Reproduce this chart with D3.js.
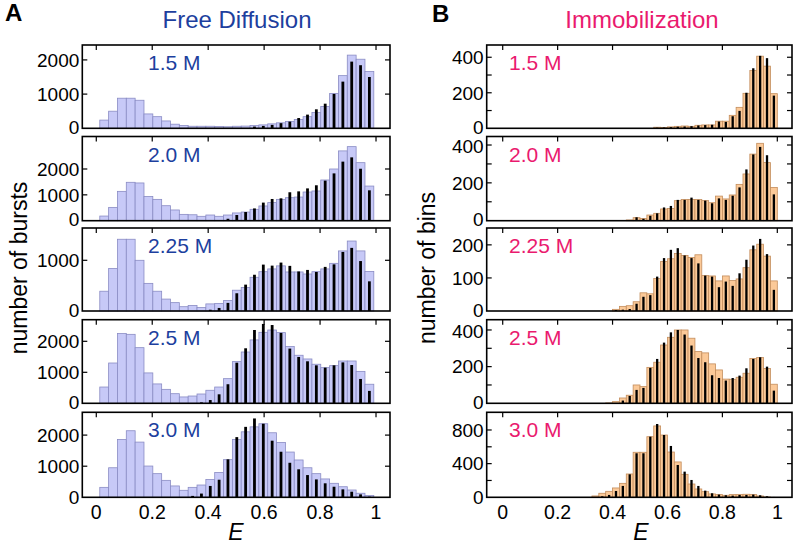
<!DOCTYPE html>
<html>
<head>
<meta charset="utf-8">
<script src="https://cdn.jsdelivr.net/npm/d3@7"></script>
<style>
  body { margin: 0; background: #fff; }
  svg { font-family: "Liberation Sans", Arial, Helvetica, sans-serif; }
</style>
</head>
<body>
<div id="chart"></div>
<script>
// ---- data ----
const zeros = n => Array(n).fill(0);

const concLabels = ["1.5 M", "2.0 M", "2.25 M", "2.5 M", "3.0 M"];

// free diffusion: 31 burst bins, first edge and width in E
const freeBinStart = 0.0125;
const freeBinWidth = 0.0316;

const free15 = [240,500,880,880,820,420,340,215,120,80,60,60,60,55,45,60,65,80,100,130,160,200,260,340,460,640,1020,1540,2140,2020,1660];
const free20 = [180,515,1135,1485,1460,940,825,580,415,245,230,170,220,170,220,300,335,440,570,700,825,890,915,1110,1150,1575,2000,2700,2865,2245,1340];
const free225 = [390,840,1415,1415,1000,545,390,235,165,85,110,70,140,150,205,410,465,665,775,830,890,770,770,730,775,830,940,1185,1380,1185,780];
const free25 = [525,1300,2250,2225,1795,980,625,450,310,205,235,300,420,525,795,1345,1655,2045,2290,2365,2280,1830,1550,1430,1260,1150,1215,1365,1365,1030,615];
const free30 = [320,950,1860,2140,1775,1005,760,545,365,225,320,395,575,800,1210,1860,2105,2265,2365,2075,1765,1455,1200,950,760,590,450,340,235,130,55];

const freeFit15 = zeros(17).concat([50,70,100,150,195,300,400,555,720,1005,1365,1950,1845,1500]);
const freeFit20 = zeros(14).concat([75,220,335,475,700,840,865,1100,1135,1250,1370,1550,1830,2285,2450,2010,1175]);
const freeFit225 = zeros(12).concat([25,60,160,350,520,715,915,895,955,890,780,810,770,870,920,1165,1245,985,585]);
const freeFit25 = zeros(11).concat([30,105,290,615,1310,1775,2365,2560,2525,2270,1765,1495,1355,1225,1150,1225,1320,1235,785,400]);
const freeFit30 = zeros(10).concat([45,120,365,565,1220,1935,2265,2535,2365,1820,1465,1110,900,715,575,450,340,255,180,95,20]);

// immobilization: 40 bins of 0.025 in E
const immBinWidth = 0.025;

const imm15 = zeros(22).concat([6,4,8,11,13,11,17,19,19,40,40,73,118,197,325,406,350,195]);
const imm20 = zeros(18).concat([4,16,12,30,39,62,65,106,112,112,112,106,95,130,115,136,192,247,352,409,307,176]);
const imm225 = zeros(16).concat([5,14,16,28,55,52,98,150,158,174,168,162,170,107,106,91,106,92,97,131,185,202,166,91]);
const imm25 = zeros(15).concat([2,9,29,44,100,91,196,224,318,360,400,400,355,282,275,215,182,132,131,142,164,244,250,190,104]);
const imm30 = zeros(13).concat([16,48,71,111,166,277,535,535,720,848,740,538,420,273,158,99,67,40,32,24,32,32,36,32,16,4,0]);

const immFit15 = zeros(22).concat([3,4,6,9,10,12,16,18,20,38,36,68,98,200,338,408,395,184]);
const immFit20 = zeros(19).concat([18,10,26,39,70,78,110,110,122,110,106,92,118,110,132,176,271,350,390,346,139]);
const immFit225 = zeros(16).concat([3,4,6,22,43,48,104,160,185,190,168,160,144,107,104,72,89,76,114,155,198,218,172,64]);
const immFit25 = zeros(17).concat([15,40,73,84,193,242,331,387,400,375,315,247,224,153,138,124,138,151,191,242,251,200,69]);
const immFit30 = zeros(14).concat([12,28,75,135,273,523,523,720,871,740,610,384,305,206,135,79,48,32,24,20,28,28,32,24,12,4]);

// axes
const xTicks = [0, 0.2, 0.4, 0.6, 0.8, 1];
const xTickLabels = ["0", "0.2", "0.4", "0.6", "0.8", "1"];
const freeYMax = [2436, 3257, 1637, 2697, 2733];
const freeYTicks = [[0,1000,2000],[0,1000,2000],[0,1000],[0,1000,2000],[0,1000,2000]];
const immYMax = [469, 445, 251, 456, 1010];
const immYTicks = [[0,200,400],[0,200,400],[0,100,200],[0,200,400],[0,400,800]];
const immYMinor = [[100,300],[100,300],[],[100,300],[200,600]];

const freeHist = [free15, free20, free225, free25, free30];
const freeFit = [freeFit15, freeFit20, freeFit225, freeFit25, freeFit30];
const immHist = [imm15, imm20, imm225, imm25, imm30];
const immFit = [immFit15, immFit20, immFit225, immFit25, immFit30];

// ---- layout ----
const W = 800, H = 547;
const rowTop = [45, 136.5, 228, 319.7, 412.3];
const rowBottom = [128.3, 220.7, 311, 403.3, 497.3];

const blue = "#1d3f9e", pink = "#ea1a6e";

const svg = d3.select("#chart").append("svg")
  .attr("width", W).attr("height", H);

const xLeft = d3.scaleLinear().domain([-0.05, 1.05]).range([82.3, 390]);
const xRight = d3.scaleLinear().domain([-0.0583, 1.0535]).range([486.7, 792]);

function drawPanel(col, r) {
  const isFree = col === 0;
  const x = isFree ? xLeft : xRight;
  const yMax = isFree ? freeYMax[r] : immYMax[r];
  const y = d3.scaleLinear().domain([0, yMax]).range([rowBottom[r], rowTop[r]]);
  const hist = isFree ? freeHist[r] : immHist[r];
  const fit = isFree ? freeFit[r] : immFit[r];
  const lo = i => isFree ? freeBinStart + i * freeBinWidth : i * immBinWidth;
  const bw = isFree ? freeBinWidth : immBinWidth;
  const g = svg.append("g");

  // histogram bars
  g.selectAll("rect.h").data(hist).join("rect")
    .attr("x", (d, i) => x(lo(i)))
    .attr("width", (d, i) => x(lo(i) + bw) - x(lo(i)))
    .attr("y", d => y(d))
    .attr("height", d => y(0) - y(d))
    .attr("fill", isFree ? "#c7c9f7" : "#fbc998")
    .attr("stroke", isFree ? "#8a8cc4" : "#c38d5c")
    .attr("stroke-width", 0.8)
    .attr("display", d => d > 0 ? null : "none");

  // black fit bars at bin centres
  const fw = isFree ? 2.8 : 2.3;
  g.selectAll("rect.f").data(fit).join("rect")
    .attr("x", (d, i) => x(lo(i) + bw / 2) - fw / 2)
    .attr("width", fw)
    .attr("y", d => y(d))
    .attr("height", d => y(0) - y(d))
    .attr("fill", "#000")
    .attr("display", d => d > 0 ? null : "none");

  const [x0, x1] = x.range();
  const y0 = rowBottom[r], y1 = rowTop[r];

  // ticks: inward, top edge and both sides
  const tl = 5;
  g.selectAll("line.xt").data(xTicks).join("line")
    .attr("x1", d => x(d)).attr("x2", d => x(d))
    .attr("y1", y1).attr("y2", y1 + tl)
    .attr("stroke", "#000").attr("stroke-width", 1.2);

  const yt = isFree ? freeYTicks[r] : immYTicks[r];
  const ym = isFree ? [] : immYMinor[r];
  const allY = yt.concat(ym).filter(v => v > 0);
  allY.forEach(v => {
    g.append("line").attr("x1", x0).attr("x2", x0 + tl)
      .attr("y1", y(v)).attr("y2", y(v)).attr("stroke", "#000").attr("stroke-width", 1.2);
    g.append("line").attr("x1", x1).attr("x2", x1 - tl)
      .attr("y1", y(v)).attr("y2", y(v)).attr("stroke", "#000").attr("stroke-width", 1.2);
  });

  // labels near a panel edge are nudged a little so they do not touch the neighbour's
  const nudge = d => {
    if (d === 0 && r < 4) return -1.3;
    if (y(d) - y1 < 12) return 1.3;
    return 0;
  };
  g.selectAll("text.yl").data(yt).join("text")
    .attr("x", x0 - 3)
    .attr("y", d => y(d) + nudge(d))
    .attr("dy", "0.36em")
    .attr("text-anchor", "end")
    .attr("font-size", 19)
    .text(d => d);

  // frame
  g.append("rect")
    .attr("x", x0).attr("y", y1)
    .attr("width", x1 - x0).attr("height", y0 - y1)
    .attr("fill", "none").attr("stroke", "#000").attr("stroke-width", 1.6);

  // concentration label
  g.append("text")
    .attr("x", isFree ? 148 : 509)
    .attr("y", y1 + 25)
    .attr("font-size", 21)
    .attr("fill", isFree ? blue : pink)
    .text(concLabels[r]);

  // x tick labels on the bottom row
  if (r === 4) {
    g.selectAll("text.xl").data(xTicks).join("text")
      .attr("x", d => x(d))
      .attr("y", 519)
      .attr("text-anchor", "middle")
      .attr("font-size", 19.5)
      .text((d, i) => xTickLabels[i]);
  }
}

for (let r = 0; r < 5; r++) { drawPanel(0, r); drawPanel(1, r); }

// titles and labels
svg.append("text").attr("x", 5).attr("y", 21).attr("font-size", 24)
  .attr("font-weight", "bold").text("A");
svg.append("text").attr("x", 432).attr("y", 22).attr("font-size", 24)
  .attr("font-weight", "bold").text("B");
svg.append("text").attr("x", 237).attr("y", 28).attr("text-anchor", "middle")
  .attr("font-size", 24).attr("fill", blue).text("Free Diffusion");
svg.append("text").attr("x", 642).attr("y", 28).attr("text-anchor", "middle")
  .attr("font-size", 24).attr("fill", pink).text("Immobilization");

svg.append("text").attr("transform", "translate(27,268) rotate(-90)")
  .attr("text-anchor", "middle").attr("font-size", 23).text("number of bursts");
svg.append("text").attr("transform", "translate(435,268) rotate(-90)")
  .attr("text-anchor", "middle").attr("font-size", 23).text("number of bins");

svg.append("text").attr("x", 236).attr("y", 540).attr("text-anchor", "middle")
  .attr("font-size", 23).attr("font-style", "italic").text("E");
svg.append("text").attr("x", 641).attr("y", 540).attr("text-anchor", "middle")
  .attr("font-size", 23).attr("font-style", "italic").text("E");
</script>
</body>
</html>
